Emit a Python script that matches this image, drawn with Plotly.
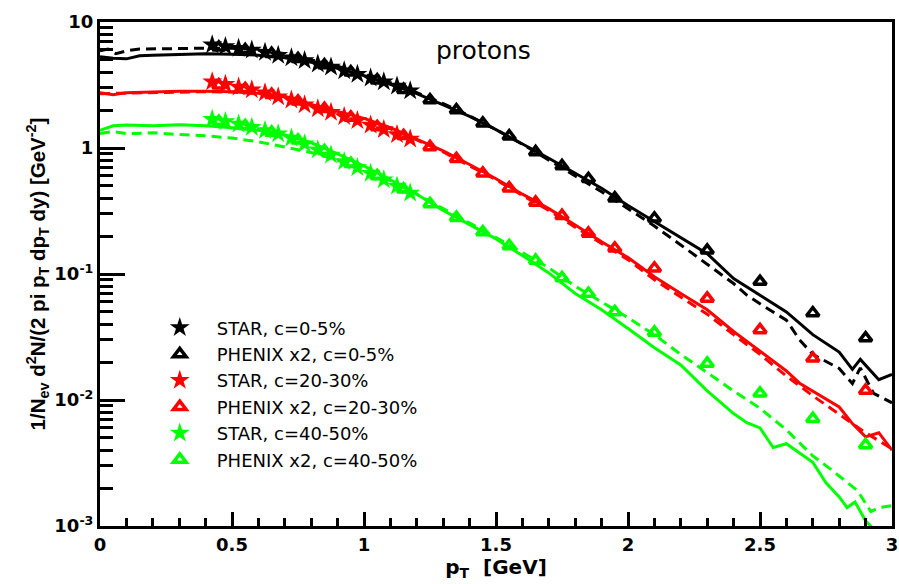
import plotly.graph_objects as go

# ---------------- data ----------------
# STAR stars (pT in GeV)
star_pt = [0.425, 0.475, 0.525, 0.575, 0.625, 0.675, 0.725, 0.775, 0.825, 0.875,
           0.925, 0.975, 1.025, 1.075, 1.125, 1.175]
star_c0_5 = [6.6, 6.4, 6.2, 6.0, 5.75, 5.45, 5.2, 4.95, 4.65, 4.4, 4.1, 3.85, 3.6, 3.35, 3.1, 2.85]
star_c20_30 = [3.35, 3.2, 3.05, 2.9, 2.75, 2.55, 2.4, 2.2, 2.05, 1.92, 1.78, 1.65, 1.52, 1.4, 1.28, 1.18]
star_c40_50 = [1.69, 1.62, 1.55, 1.46, 1.38, 1.3, 1.2, 1.08, 0.97, 0.88, 0.78, 0.7, 0.63, 0.56, 0.5, 0.44]

# PHENIX x2 triangles
phenix_pt = [0.45, 0.55, 0.65, 0.75, 0.85, 0.95, 1.05, 1.15, 1.25, 1.35, 1.45, 1.55, 1.65,
             1.75, 1.85, 1.95, 2.1, 2.3, 2.5, 2.7, 2.9]
phenix_c0_5 = [6.3, 6.0, 5.6, 5.1, 4.55, 4.0, 3.45, 2.9, 2.4, 2.0, 1.57, 1.24, 0.93,
               0.72, 0.57, 0.40, 0.277, 0.154, 0.087, 0.049, 0.031]
phenix_c20_30 = [3.15, 2.95, 2.65, 2.35, 2.05, 1.75, 1.47, 1.25, 1.02, 0.82, 0.63, 0.48, 0.37,
                 0.29, 0.21, 0.16, 0.111, 0.064, 0.036, 0.0214, 0.0119]
phenix_c40_50 = [1.62, 1.5, 1.33, 1.15, 0.95, 0.75, 0.6, 0.47, 0.36, 0.28, 0.215, 0.167, 0.128,
                 0.093, 0.07, 0.05, 0.0344, 0.0195, 0.0113, 0.0071, 0.0044]

# model curves: solid and dashed, per centrality
bs_pt = [0, 0.05, 0.1, 0.15, 0.2, 0.3, 0.4, 0.5, 0.6, 0.7, 0.8, 0.9, 1.0, 1.1, 1.2, 1.3, 1.4,
         1.5, 1.6, 1.7, 1.8, 1.9, 2.0, 2.1, 2.2, 2.3, 2.4, 2.5, 2.6, 2.7, 2.8, 2.85, 2.88, 2.95, 3.0]
bs_v = [5.3, 5.15, 5.1, 5.4, 5.45, 5.5, 5.6, 5.55, 5.45, 5.2, 4.8, 4.3, 3.75, 3.2, 2.7, 2.2, 1.78,
        1.4, 1.08, 0.83, 0.63, 0.48, 0.35, 0.26, 0.195, 0.145, 0.092, 0.068, 0.05, 0.033, 0.024,
        0.0175, 0.021, 0.0145, 0.016]

bd_pt = [0, 0.03, 0.06, 0.1, 0.15, 0.2, 0.3, 0.4, 0.5, 0.6, 0.7, 0.8, 0.9, 1.0, 1.1, 1.2, 1.3,
         1.4, 1.5, 1.6, 1.7, 1.8, 1.9, 2.0, 2.1, 2.2, 2.3, 2.4, 2.45, 2.5, 2.6, 2.65, 2.7, 2.8,
         2.85, 2.88, 2.93, 3.0]
bd_v = [5.9, 6.1, 5.6, 5.9, 6.1, 6.1, 6.15, 6.2, 6.2, 6.0, 5.6, 5.0, 4.45, 3.85, 3.3, 2.75, 2.25,
        1.8, 1.4, 1.07, 0.8, 0.6, 0.45, 0.33, 0.24, 0.17, 0.12, 0.084, 0.068, 0.058, 0.043, 0.03,
        0.023, 0.0178, 0.0135, 0.018, 0.0113, 0.0095]

rs_pt = [0, 0.05, 0.1, 0.2, 0.3, 0.4, 0.5, 0.6, 0.7, 0.8, 0.9, 1.0, 1.1, 1.2, 1.3, 1.4, 1.5, 1.6,
         1.7, 1.8, 1.9, 2.0, 2.1, 2.2, 2.3, 2.4, 2.5, 2.6, 2.65, 2.7, 2.8, 2.85, 2.9, 2.95, 3.0]
rs_v = [2.75, 2.65, 2.75, 2.8, 2.82, 2.82, 2.8, 2.72, 2.58, 2.22, 1.95, 1.72, 1.45, 1.18, 0.95,
        0.74, 0.57, 0.43, 0.33, 0.245, 0.18, 0.135, 0.095, 0.07, 0.052, 0.035, 0.0245, 0.017,
        0.0136, 0.0118, 0.0088, 0.0065, 0.0051, 0.0055, 0.004]

rd_pt = [0, 0.1, 0.2, 0.3, 0.4, 0.5, 0.6, 0.7, 0.8, 0.9, 1.0, 1.1, 1.2, 1.3, 1.4, 1.5, 1.6, 1.7,
         1.8, 1.9, 2.0, 2.1, 2.2, 2.3, 2.4, 2.5, 2.6, 2.7, 2.8, 2.9, 3.0]
rd_v = [2.7, 2.72, 2.76, 2.78, 2.8, 2.78, 2.7, 2.55, 2.2, 1.93, 1.68, 1.42, 1.16, 0.93, 0.72,
        0.56, 0.42, 0.32, 0.235, 0.175, 0.13, 0.09, 0.066, 0.048, 0.033, 0.023, 0.0155, 0.0108,
        0.0077, 0.0055, 0.0041]

gs_pt = [0, 0.05, 0.1, 0.2, 0.3, 0.4, 0.5, 0.6, 0.7, 0.8, 0.9, 1.0, 1.1, 1.2, 1.3, 1.4, 1.5, 1.6,
         1.7, 1.8, 1.9, 2.0, 2.1, 2.2, 2.3, 2.4, 2.45, 2.5, 2.55, 2.6, 2.65, 2.7, 2.75, 2.8, 2.83,
         2.86, 2.9, 2.93, 2.96, 3.0]
gs_v = [1.38, 1.5, 1.52, 1.5, 1.53, 1.5, 1.45, 1.38, 1.27, 1.1, 0.9, 0.72, 0.56, 0.43, 0.32,
        0.245, 0.19, 0.14, 0.102, 0.07, 0.052, 0.037, 0.026, 0.019, 0.0118, 0.0078, 0.0066,
        0.006, 0.0042, 0.0045, 0.0038, 0.0032, 0.0022, 0.0017, 0.0014, 0.00155, 0.0011,
        0.00095, 0.0009, 0.00085]

gd_pt = [0, 0.05, 0.1, 0.2, 0.3, 0.4, 0.5, 0.6, 0.7, 0.8, 0.9, 1.0, 1.1, 1.2, 1.3, 1.4, 1.5, 1.6,
         1.7, 1.8, 1.9, 2.0, 2.1, 2.2, 2.3, 2.4, 2.5, 2.6, 2.7, 2.77, 2.87, 2.92, 2.95, 3.0]
gd_v = [1.3, 1.35, 1.3, 1.32, 1.28, 1.25, 1.2, 1.12, 1.02, 0.92, 0.8, 0.68, 0.55, 0.43, 0.33,
        0.255, 0.195, 0.148, 0.112, 0.08, 0.06, 0.045, 0.033, 0.023, 0.0165, 0.0118, 0.0086,
        0.0058, 0.0036, 0.0028, 0.0019, 0.0013, 0.0014, 0.00145]

y_tickvals = [1e-3, 1e-2, 1e-1, 1, 10]
y_ticktext = ["10<sup>-3</sup>", "10<sup>-2</sup>", "10<sup>-1</sup>", "1", "10"]
x_tickvals = [0, 0.5, 1, 1.5, 2, 2.5, 3]
x_ticktext = ["0", "0.5", "1", "1.5", "2", "2.5", "3"]

BLACK, RED, GREEN = "#000000", "#ff0000", "#00ff00"
FONT = "DejaVu Sans, Verdana, sans-serif"
FONT_TITLE = "Liberation Sans, Arial, Helvetica, sans-serif"

fig = go.Figure()

curves = [
    (bs_pt, bs_v, BLACK, "solid"), (bd_pt, bd_v, BLACK, "10px,6px"),
    (rs_pt, rs_v, RED, "solid"), (rd_pt, rd_v, RED, "10px,6px"),
    (gs_pt, gs_v, GREEN, "solid"), (gd_pt, gd_v, GREEN, "10px,6px"),
]
for xs, ys, col, dash in curves:
    fig.add_trace(go.Scatter(x=xs, y=ys, mode="lines", showlegend=False,
                             line=dict(color=col, width=3, dash=dash), hoverinfo="skip"))

markers = [
    (star_pt, star_c0_5, BLACK, "star", "STAR, c=0-5%"),
    (phenix_pt, phenix_c0_5, BLACK, "triangle-up-open", "PHENIX x2, c=0-5%"),
    (star_pt, star_c20_30, RED, "star", "STAR, c=20-30%"),
    (phenix_pt, phenix_c20_30, RED, "triangle-up-open", "PHENIX x2, c=20-30%"),
    (star_pt, star_c40_50, GREEN, "star", "STAR, c=40-50%"),
    (phenix_pt, phenix_c40_50, GREEN, "triangle-up-open", "PHENIX x2, c=40-50%"),
]
for xs, ys, col, sym, name in markers:
    if sym == "star":
        mk = dict(symbol=sym, size=15, color=col, line=dict(width=0))
    else:
        mk = dict(symbol=sym, size=11, color=col, line=dict(width=3.5, color=col))
    fig.add_trace(go.Scatter(x=xs, y=ys, mode="markers", name=name, marker=mk))

axis_common = dict(showline=True, linecolor="black", linewidth=3, mirror=True,
                   showgrid=False, zeroline=False, ticks="inside", tickcolor="black",
                   tickwidth=3)

fig.update_xaxes(range=[0, 3], tickmode="array", tickvals=x_tickvals, ticktext=x_ticktext,
                 ticklen=14, tickfont=dict(family=FONT, size=18, color="black", weight="bold"),
                 minor=dict(ticks="inside", ticklen=8, tickwidth=3, tickcolor="black",
                            dtick=0.1, tick0=0),
                 title=dict(text="p<sub>T</sub>  [GeV]",
                            font=dict(family=FONT, size=20, color="black", weight="bold"),
                            standoff=2),
                 **axis_common)

minor_y = [m * 10 ** e for e in range(-3, 1) for m in range(2, 10)]
fig.update_yaxes(type="log", range=[-3, 1], tickmode="array", tickvals=y_tickvals,
                 ticktext=y_ticktext, ticklen=25,
                 tickfont=dict(family=FONT, size=18, color="black", weight="bold"),
                 minor=dict(ticks="inside", ticklen=13, tickwidth=3, tickcolor="black",
                            tickmode="array", tickvals=minor_y),
                 title=dict(text="1/N<sub>ev</sub> d<sup>2</sup>N/(2 pi p<sub>T</sub> dp<sub>T</sub> dy) [GeV<sup>-2</sup>]",
                            font=dict(family=FONT_TITLE, size=20.5, color="black", weight="bold"),
                            standoff=4),
                 **axis_common)

fig.add_annotation(text="protons", xref="paper", yref="paper", x=0.484, y=0.944,
                   xanchor="center", yanchor="middle", showarrow=False,
                   font=dict(family=FONT, size=25, color="black"))

fig.update_layout(
    width=899, height=584,
    margin=dict(l=100, r=7, t=22, b=58, autoexpand=False),
    paper_bgcolor="white", plot_bgcolor="white",
    legend=dict(x=0.054, y=0.43, xanchor="left", yanchor="top",
                bgcolor="rgba(0,0,0,0)", borderwidth=0, itemwidth=64,
                font=dict(family=FONT, size=18, color="black"), tracegroupgap=0),
    showlegend=True,
)

fig.write_html("out.html")
